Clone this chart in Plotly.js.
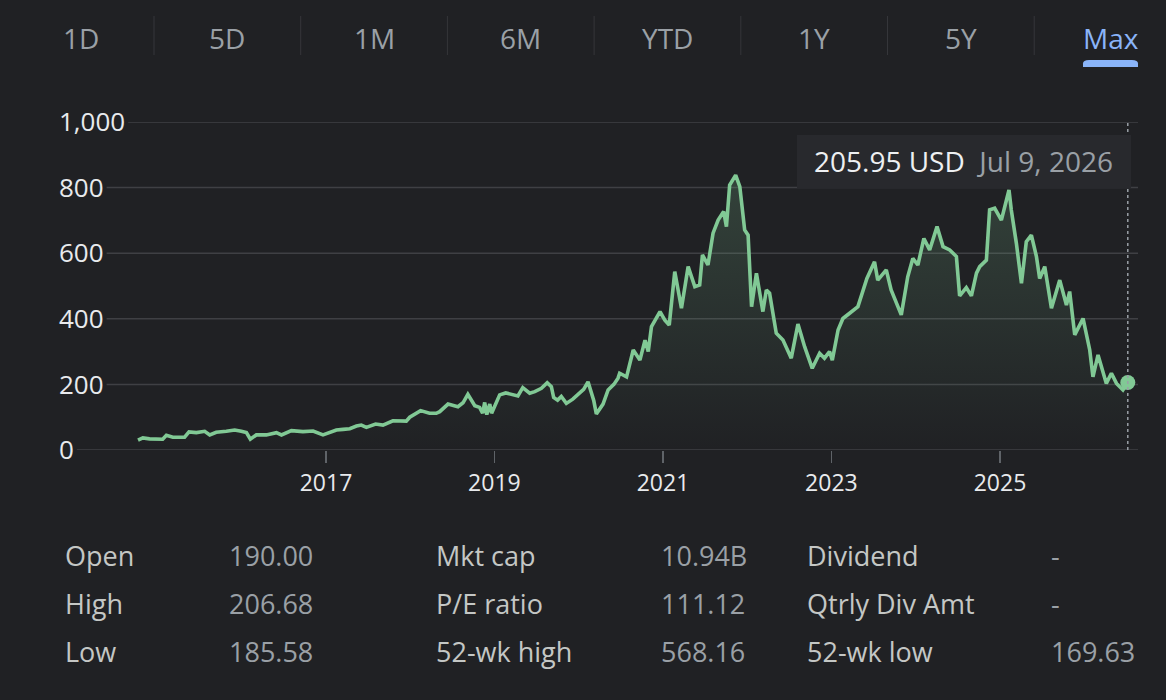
<!DOCTYPE html>
<html><head><meta charset="utf-8">
<script src="https://cdn.plot.ly/plotly-3.0.1.min.js"></script>
<style>html,body{margin:0;padding:0;background:#202124;}#chart{width:1166px;height:700px;}</style>
</head><body><div id="chart"></div>
<script>
// ---------- data ----------
const dates = ["2014-10-09","2014-10-30","2014-11-28","2015-01-24","2015-02-09","2015-03-09","2015-04-29","2015-05-18","2015-06-19","2015-07-25","2015-08-16","2015-09-13","2015-10-27","2015-12-02","2015-12-31","2016-01-22","2016-02-08","2016-03-05","2016-04-17","2016-05-31","2016-06-22","2016-08-04","2016-09-23","2016-11-06","2016-12-19","2017-01-17","2017-02-15","2017-03-16","2017-04-14","2017-05-13","2017-06-03","2017-06-25","2017-08-04","2017-09-05","2017-10-18","2017-12-15","2017-12-30","2018-02-15","2018-03-26","2018-04-24","2018-05-09","2018-06-14","2018-07-27","2018-08-18","2018-09-08","2018-10-08","2018-10-29","2018-11-11","2018-11-20","2018-11-29","2018-12-12","2018-12-20","2019-01-17","2019-01-24","2019-02-19","2019-03-23","2019-04-13","2019-05-04","2019-06-03","2019-06-25","2019-07-24","2019-08-18","2019-09-05","2019-09-15","2019-10-02","2019-10-18","2019-11-09","2019-12-07","2020-01-06","2020-01-23","2020-02-11","2020-02-26","2020-03-07","2020-03-18","2020-04-02","2020-04-16","2020-05-08","2020-06-02","2020-06-20","2020-06-27","2020-07-27","2020-08-25","2020-09-23","2020-10-15","2020-10-29","2020-11-12","2020-12-19","2021-01-09","2021-01-28","2021-02-21","2021-03-22","2021-04-20","2021-05-19","2021-06-09","2021-06-21","2021-07-15","2021-08-06","2021-08-28","2021-09-21","2021-10-03","2021-10-17","2021-11-12","2021-11-30","2021-12-21","2022-01-05","2022-01-20","2022-02-10","2022-03-10","2022-03-25","2022-04-08","2022-05-07","2022-06-05","2022-07-11","2022-08-09","2022-09-07","2022-10-10","2022-11-11","2022-12-02","2022-12-24","2023-01-05","2023-01-30","2023-02-20","2023-03-21","2023-04-26","2023-06-04","2023-07-07","2023-07-21","2023-08-27","2023-09-17","2023-10-31","2023-11-28","2023-12-20","2024-01-11","2024-02-06","2024-03-02","2024-04-03","2024-04-29","2024-05-28","2024-06-26","2024-07-10","2024-08-08","2024-08-30","2024-09-21","2024-10-05","2024-11-03","2024-11-17","2024-12-09","2025-01-07","2025-01-29","2025-02-09","2025-02-19","2025-03-13","2025-04-04","2025-04-25","2025-05-17","2025-06-08","2025-06-22","2025-07-14","2025-08-12","2025-09-17","2025-10-16","2025-10-30","2025-11-21","2025-12-27","2026-01-25","2026-02-08","2026-03-02","2026-04-07","2026-04-29","2026-05-21","2026-06-18","2026-07-09"];
const prices = [30,37,34,33,45,39,39,55,53,57,46,54,57,61,57,53,33,46,46,53,46,59,56,58,46,53,61,63,65,73,76,69,79,76,89,88,100,120,112,112,117,140,132,144,170,135,130,112,145,108,140,112,152,168,174,168,165,190,173,178,188,205,193,160,152,163,142,155,172,185,208,178,150,110,125,140,183,200,219,234,223,305,274,335,300,376,422,396,381,544,432,559,498,503,595,564,661,701,727,681,808,838,803,671,655,437,539,422,488,478,356,335,280,384,315,249,295,280,300,274,366,401,417,437,523,574,518,549,488,412,528,584,564,645,610,681,620,610,590,470,495,470,539,559,579,732,737,701,762,793,732,630,508,635,655,590,523,559,432,518,442,483,351,401,305,223,290,203,234,203,183,205.95];
const currency = "USD";
const xTickYears = ["2017","2019","2021","2023","2025"];
const yTicks = [0,200,400,600,800,1000];
const yTickLabels = ["0","200","400","600","800","1,000"];
const rangeTabs = ["1D","5D","1M","6M","YTD","1Y","5Y","Max"];
const activeTab = "Max";
const statLabelsA = ["Open","High","Low"];
const statValuesA = ["190.00","206.68","185.58"];
const statLabelsB = ["Mkt cap","P/E ratio","52-wk high"];
const statValuesB = ["10.94B","111.12","568.16"];
const statLabelsC = ["Dividend","Qtrly Div Amt","52-wk low"];
const statValuesC = ["-","-","169.63"];

// ---------- layout / style ----------
const W = 1166, H = 700;
const L = 56, R = 1138, T = 122, B = 450;
const BG = "#202124", GREEN = "#81c995", GRID = "#3f4044";
const FONT = "Open Sans, Roboto, sans-serif";
const X = px => (px - L) / (R - L);
const Y = py => (B - py) / (B - T);

// date calibration: 2017-01-01 at px 326, 2025-01-01 at px 1000
const t17 = Date.UTC(2017,0,1), t25 = Date.UTC(2025,0,1);
const msPerPx = (t25 - t17) / (1000 - 326);
const fmt = ms => new Date(ms).toISOString().slice(0,19).replace("T"," ");
const xRange = [fmt(t17 - (326 - L) * msPerPx), fmt(t17 + (R - 326) * msPerPx)];

const lastDate = dates[dates.length-1];
const lastPrice = prices[prices.length-1];
const months = ["Jan","Feb","Mar","Apr","May","Jun","Jul","Aug","Sep","Oct","Nov","Dec"];
const ld = lastDate.split("-");
const lastDateText = months[+ld[1]-1] + " " + (+ld[2]) + ", " + ld[0];

const traces = [
  {x: dates, y: prices, type: "scatter", mode: "lines",
   line: {color: GREEN, width: 3.6, shape: "linear"},
   fill: "tozeroy",
   fillgradient: {type: "vertical", start: 0, stop: 850,
     colorscale: [[0, "rgba(129,201,149,0)"], [1, "rgba(129,201,149,0.2)"]]},
   hoverinfo: "skip", showlegend: false},
  {x: [lastDate], y: [lastPrice], type: "scatter", mode: "markers",
   marker: {color: GREEN, size: 15}, cliponaxis: false, hoverinfo: "skip", showlegend: false}
];

const shapes = [];
const annotations = [];

// range tabs
const sep0 = 154, sepStep = 146.7;
rangeTabs.forEach((t, i) => {
  const cx = sep0 - sepStep/2 + i*sepStep + (i === rangeTabs.length-1 ? 3 : 0);
  annotations.push({xref:"paper", yref:"paper", x: X(cx), y: Y(38), text: t, showarrow:false,
    xanchor:"center", yanchor:"middle",
    font:{family: FONT, size: 28, color: t === activeTab ? "#8ab4f8" : "#9aa0a6", weight: 500}});
  if (i > 0) {
    const sx = sep0 + (i-1)*sepStep;
    shapes.push({type:"line", xref:"paper", yref:"paper", x0:X(sx), x1:X(sx), y0:Y(16), y1:Y(55),
      line:{color:"#35363a", width:1}});
  }
});
// active underline (rounded top)
{
  const a = 1083, b = 1138, top = 60, bot = 67, r = 6;
  shapes.push({type:"path", xref:"paper", yref:"paper", fillcolor:"#8ab4f8", line:{width:0},
    path:`M ${X(a)},${Y(bot)} L ${X(a)},${Y(top+r*0.6)} Q ${X(a)},${Y(top)} ${X(a+r)},${Y(top)} L ${X(b-r)},${Y(top)} Q ${X(b)},${Y(top)} ${X(b)},${Y(top+r*0.6)} L ${X(b)},${Y(bot)} Z`});
}

// hover dashed line
shapes.push({type:"line", xref:"x", yref:"paper", x0:lastDate, x1:lastDate, y0:0, y1:1,
  line:{color:"#9aa0a6", width:1.5, dash:"dot"}, layer:"above"});
// tooltip box
shapes.push({type:"rect", xref:"paper", yref:"paper", x0:X(797), x1:X(1131), y0:Y(188), y1:Y(135),
  fillcolor:"#28292d", line:{width:0}, layer:"above"});
annotations.push({xref:"paper", yref:"paper", x: X(812), y: Y(161), xanchor:"left", yanchor:"middle",
  showarrow:false,
  text:`<span style="color:#eef0f2">${lastPrice.toFixed(2)} ${currency}</span>  <span style="color:#9aa0a6">${lastDateText}</span>`,
  font:{family: FONT, size: 28}});

// stats table
const cols = [[statLabelsA, statValuesA, 63, 227], [statLabelsB, statValuesB, 434, 659], [statLabelsC, statValuesC, 805, 1049]];
const rowY = [555, 603, 651];
cols.forEach(([labs, vals, lx, vx]) => {
  labs.forEach((lab, r) => {
    annotations.push({xref:"paper", yref:"paper", x:X(lx), y:Y(rowY[r]), xanchor:"left", yanchor:"middle",
      showarrow:false, text: lab, font:{family: FONT, size: 27, color:"#c4c7c5"}});
    annotations.push({xref:"paper", yref:"paper", x:X(vx), y:Y(rowY[r]), xanchor:"left", yanchor:"middle",
      showarrow:false, text: vals[r], font:{family: FONT, size: 27, color:"#9aa0a6"}});
  });
});

const layout = {
  width: W, height: H,
  paper_bgcolor: BG, plot_bgcolor: BG,
  margin: {l: L, r: W - R, t: T, b: H - B, pad: 0},
  showlegend: false,
  xaxis: {type: "date", range: xRange, tickvals: xTickYears.map(y => y + "-01-01"), ticktext: xTickYears,
    ticks: "outside", ticklen: 12, tickcolor: "#5f6368", tickwidth: 1.5,
    showgrid: false, zeroline: false, showline: false, fixedrange: true,
    tickfont: {family: FONT, size: 23, color: "#e8eaed"}},
  yaxis: {range: [0, 1000], tickvals: yTicks, ticktext: yTickLabels, ticklabelposition: "inside",
    ticklabeloverflow: "allow",
    ticks: "", showgrid: false, zeroline: false, showline: false, fixedrange: true,
    tickfont: {family: FONT, size: 26, color: "#e8eaed"}},
  shapes: shapes,
  annotations: annotations
};

Plotly.newPlot("chart", traces, layout, {displayModeBar: false, staticPlot: true}).then(gd => {
  // gridlines that start just after each y tick label
  const gbox = gd.getBoundingClientRect();
  const extra = [];
  gd.querySelectorAll(".ytick text").forEach(el => {
    const i = yTickLabels.indexOf(el.textContent);
    if (i < 0) return;
    const bb = el.getBoundingClientRect();
    const startPx = bb.width > 0 ? bb.right - gbox.left + 3 : L;
    extra.push({type:"line", xref:"paper", yref:"y", x0:X(startPx), x1:1, y0:yTicks[i], y1:yTicks[i],
      line:{color: GRID, width: 1.5}, layer:"below"});
  });
  return Plotly.relayout(gd, {shapes: extra.concat(shapes)});
});
</script></body></html>
